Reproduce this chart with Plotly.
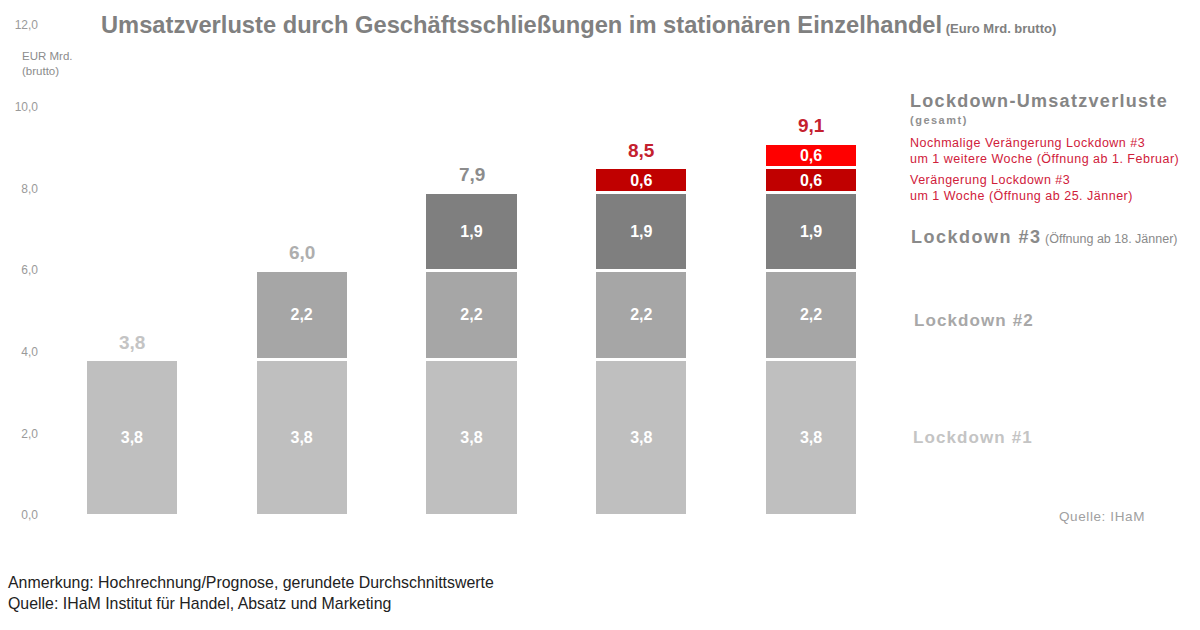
import plotly.graph_objects as go

# ---- data ----
categories = [0, 1, 2, 3, 4]
lockdown1 = [3.8, 3.8, 3.8, 3.8, 3.8]
lockdown2 = [None, 2.2, 2.2, 2.2, 2.2]
lockdown3 = [None, None, 1.9, 1.9, 1.9]
verlaengerung1 = [None, None, None, 0.6, 0.6]
verlaengerung2 = [None, None, None, None, 0.6]
totals = [3.8, 6.0, 7.9, 8.5, 9.1]
total_colors = ["#C4C4C4", "#AEAEAE", "#8C8C8C", "#C4202E", "#C4202E"]
y_ticks = [0, 2, 4, 6, 8, 10, 12]

FONT = "Liberation Sans, Arial, sans-serif"


def fmt(v):
    return "" if v is None else f"{v:.1f}".replace(".", ",")


fig = go.Figure()
series = [
    ("Lockdown #1", lockdown1, "#BFBFBF"),
    ("Lockdown #2", lockdown2, "#A6A6A6"),
    ("Lockdown #3", lockdown3, "#7F7F7F"),
    ("Verlängerung", verlaengerung1, "#C00000"),
    ("Nochmalige Verlängerung", verlaengerung2, "#FF0000"),
]
for name, vals, col in series:
    fig.add_trace(go.Bar(
        x=categories, y=vals, name=name,
        marker=dict(color=col, line=dict(color="white", width=3)),
        text=[fmt(v) for v in vals],
        textposition="inside", insidetextanchor="middle",
        textangle=0, constraintext="none",
        textfont=dict(color="white", size=16, family=FONT, weight="bold"),
        hoverinfo="skip", showlegend=False,
    ))

annotations = []
for i, t in enumerate(totals):
    annotations.append(dict(
        x=categories[i], y=t, xref="x", yref="y", text=f"<b>{fmt(t)}</b>",
        showarrow=False, yanchor="bottom", yshift=5,
        font=dict(size=19, color=total_colors[i], family=FONT),
    ))

W, H = 1200, 630
pnotes = []


def add(xp, yp, text, size, color, xanchor="left", yanchor="middle"):
    pnotes.append((xp, yp, text, size, color, xanchor, yanchor))


def ls(text, sp):
    return f"<span style='letter-spacing:{sp}px'>{text}</span>"


red = "#D0203A"
add(99, 25, "<b>Umsatzverluste durch Geschäftsschließungen im stationären Einzelhandel</b>"
    "<span style='font-size:13px'><b> (Euro Mrd. brutto)</b></span>", 23.7, "#808080")
add(20, 63, "EUR Mrd.<br>(brutto)", 11.5, "#8C8C8C")
add(908, 101, ls("<b>Lockdown-Umsatzverluste</b>", 1.3), 18, "#858585")
add(908, 120, ls("<b>(gesamt)</b>", 1.5), 11, "#909090")
add(908, 151, ls("Nochmalige Verängerung Lockdown #3<br>um 1 weitere Woche (Öffnung ab 1. Februar)", 0.5), 12.5, red)
add(908, 188, ls("Verängerung Lockdown #3<br>um 1 Woche (Öffnung ab 25. Jänner)", 0.5), 12.5, red)
add(909, 237, ls("<b>Lockdown #3</b>", 1.5) + "<span style='font-size:12.5px'> (Öffnung ab 18. Jänner)</span>", 18, "#8A8A8A")
add(912, 320, ls("<b>Lockdown #2</b>", 1.1), 17, "#A8A8A8")
add(911, 437, ls("<b>Lockdown #1</b>", 1.1), 17, "#C4C4C4")
add(1147, 516, ls("Quelle: IHaM", 0.6), 13.5, "#A0A0A0", xanchor="right")
add(6, 593, "Anmerkung: Hochrechnung/Prognose, gerundete Durchschnittswerte<br>"
    "Quelle: IHaM Institut für Handel, Absatz und Marketing", 15.9, "#222222")

L, R, T, B = 47, 1200 - 896, 25, 630 - 515
pw, ph = W - L - R, H - T - B
for (xp, yp, text, size, color, xa, ya) in pnotes:
    annotations.append(dict(
        x=(xp - L) / pw, y=(H - B - yp) / ph, xref="paper", yref="paper",
        xanchor=xa, yanchor=ya, text=text, showarrow=False, align="left",
        font=dict(size=size, color=color, family=FONT),
    ))

fig.update_layout(
    width=W, height=H,
    margin=dict(l=L, r=R, t=T, b=B),
    barmode="stack", bargap=0.452,
    separators=",.",
    plot_bgcolor="white", paper_bgcolor="white",
    font=dict(family=FONT),
    xaxis=dict(range=[-0.5, 4.5], showticklabels=False, showgrid=False,
               zeroline=False, showline=False, fixedrange=True),
    yaxis=dict(range=[0, 12], tickvals=y_ticks, tickformat=".1f",
               showgrid=False, zeroline=False, showline=False,
               tickfont=dict(size=12, color="#9A9A9A", family=FONT),
               ticklabelstandoff=8),
    annotations=annotations,
)

fig.write_html("out.html", config={"displayModeBar": False},
               post_script="document.body.style.margin='0';")
